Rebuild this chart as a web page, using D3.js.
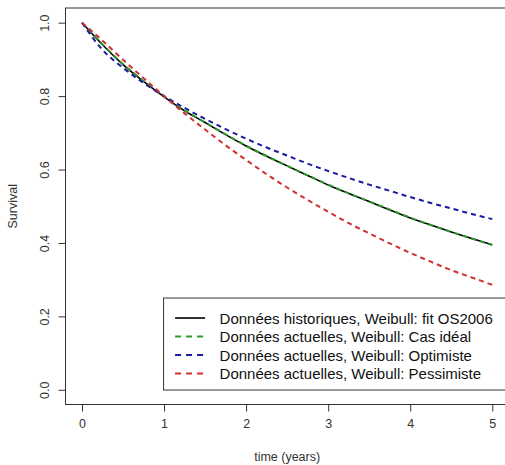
<!DOCTYPE html>
<html>
<head>
<meta charset="utf-8">
<script src="https://cdn.jsdelivr.net/npm/d3@7"></script>
<style>
  html, body { margin: 0; padding: 0; background: #fff; }
  svg { display: block; font-family: "Liberation Sans", Arial, sans-serif; }
</style>
</head>
<body>
<svg id="chart" width="505" height="465"></svg>
<script>
// ---- data ----
const times = [0, 0.25, 0.5, 0.75, 1, 1.25, 1.5, 1.75, 2, 2.25, 2.5, 2.75, 3, 3.25, 3.5, 3.75, 4, 4.25, 4.5, 4.75, 5];
const historique = [1.000, 0.940, 0.886, 0.840, 0.798, 0.760, 0.728, 0.695, 0.664, 0.636, 0.610, 0.584, 0.558, 0.535, 0.513, 0.490, 0.468, 0.449, 0.430, 0.412, 0.395];
const casIdeal   = [1.000, 0.941, 0.887, 0.841, 0.799, 0.761, 0.728, 0.696, 0.665, 0.637, 0.610, 0.584, 0.559, 0.535, 0.513, 0.491, 0.469, 0.449, 0.430, 0.412, 0.394];
const optimiste  = [1.000, 0.926, 0.877, 0.836, 0.800, 0.768, 0.738, 0.710, 0.684, 0.660, 0.638, 0.616, 0.596, 0.577, 0.559, 0.542, 0.525, 0.509, 0.494, 0.479, 0.465];
const pessimiste = [1.000, 0.951, 0.899, 0.849, 0.800, 0.753, 0.709, 0.666, 0.626, 0.587, 0.551, 0.517, 0.485, 0.454, 0.426, 0.399, 0.373, 0.349, 0.326, 0.306, 0.286];
const xTicks = [0, 1, 2, 3, 4, 5];
const yTicks = [0, 0.2, 0.4, 0.6, 0.8, 1.0];
const seriesNames = [
  "Données historiques, Weibull: fit OS2006",
  "Données actuelles, Weibull: Cas idéal",
  "Données actuelles, Weibull: Optimiste",
  "Données actuelles, Weibull: Pessimiste"
];
const seriesColors = ["#000000", "#2a9a2a", "#1c1ca0", "#d03030"];

const seriesData = [historique, casIdeal, optimiste, pessimiste];
const dashed = [false, true, true, true];

// ---- layout ----
const svg = d3.select("#chart");
const x = d3.scaleLinear().domain([-0.2, 5.2]).range([65.6, 508.7]);
const y = d3.scaleLinear().domain([-0.04, 1.04]).range([404.5, 8]);

// lines
const line = d3.line()
  .x((d, i) => x(times[i]))
  .y(d => y(d))
  .curve(d3.curveMonotoneX);

seriesData.forEach((s, k) => {
  svg.append("path")
    .datum(s)
    .attr("d", line)
    .attr("fill", "none")
    .attr("stroke", seriesColors[k])
    .attr("stroke-width", k === 0 ? 1.6 : 2)
    .attr("stroke-dasharray", dashed[k] ? "5,4" : null);
});

// plot box
svg.append("rect")
  .attr("x", 65.5).attr("y", 8)
  .attr("width", 508.7 - 65.5).attr("height", 404.5 - 8)
  .attr("fill", "none").attr("stroke", "#333").attr("stroke-width", 1);

// axes
const xAxis = d3.axisBottom(x).tickValues(xTicks).tickFormat(d3.format("d")).tickSize(7).tickPadding(8);
const gx = svg.append("g").attr("transform", "translate(0,404.5)").call(xAxis);
gx.select(".domain").attr("d", `M${x(0)},0H${x(5)}`).attr("stroke", "#333");
gx.selectAll(".tick line").attr("stroke", "#333");
gx.selectAll("text").attr("font-size", 12.5).attr("fill", "#333")
  .attr("font-family", "Liberation Sans, Arial, sans-serif");

const yAxis = d3.axisLeft(y).tickValues(yTicks).tickFormat(d3.format(".1f")).tickSize(7);
const gy = svg.append("g").attr("transform", "translate(65.5,0)").call(yAxis);
gy.select(".domain").attr("d", `M0,${y(0)}V${y(1)}`).attr("stroke", "#333");
gy.selectAll(".tick line").attr("stroke", "#333");
gy.selectAll("text")
  .attr("font-size", 12.5).attr("fill", "#333")
  .attr("font-family", "Liberation Sans, Arial, sans-serif")
  .attr("x", 0).attr("dy", 0)
  .attr("text-anchor", "middle")
  .attr("transform", "translate(-21,0) rotate(-90)")
  .attr("dominant-baseline", "central");

// axis titles
svg.append("text")
  .attr("x", (x(-0.2) + x(5.2)) / 2).attr("y", 461)
  .attr("text-anchor", "middle").attr("font-size", 12.5).attr("fill", "#333")
  .text("time (years)");
svg.append("text")
  .attr("transform", `translate(17,${(y(-0.04) + y(1.04)) / 2}) rotate(-90)`)
  .attr("text-anchor", "middle").attr("font-size", 12.5).attr("fill", "#333")
  .text("Survival");

// legend
const lx = x(1), ly = y(0.25);
const legend = svg.append("g");
legend.append("rect")
  .attr("x", lx - 0.5).attr("y", ly)
  .attr("width", 508.7 - lx).attr("height", 92)
  .attr("fill", "#fff").attr("stroke", "#333").attr("stroke-width", 1);
seriesNames.forEach((name, k) => {
  const ry = ly + 20 + k * 18.5;
  legend.append("line")
    .attr("x1", lx + 11).attr("x2", lx + 41)
    .attr("y1", ry).attr("y2", ry)
    .attr("stroke", seriesColors[k]).attr("stroke-width", k === 0 ? 1.6 : 2)
    .attr("stroke-dasharray", dashed[k] ? "6,5" : null);
  legend.append("text")
    .attr("x", lx + 55.5).attr("y", ry)
    .attr("dominant-baseline", "central")
    .attr("font-size", 15).attr("fill", "#111")
    .text(name);
});
</script>
</body>
</html>
